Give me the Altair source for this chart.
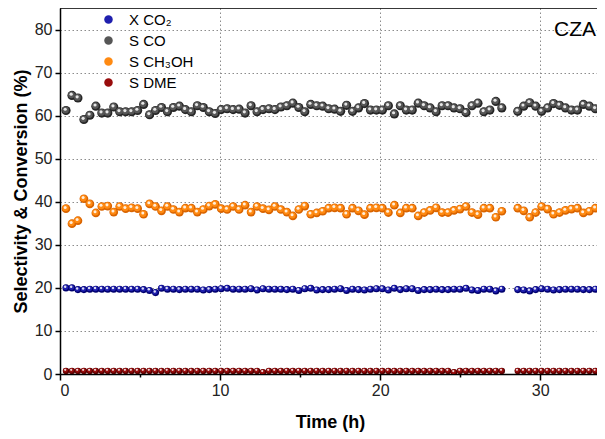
import altair as alt
import pandas as pd

# ---- data ----
series_names = ["X CO\u2082", "S CO", "S CH\u2083OH", "S DME"]
series_colors = ["#1f1fae", "#565656", "#ff8a12", "#980c0c"]
rim_colors = ["#00006e", "#262626", "#d96400", "#560000"]
sizes = [50, 84, 76, 42]

# sampling times (h): first run, then a short interruption, then second run
time_run1 = [round(0.375 + 0.373 * i, 3) for i in range(74)]
time_run2 = [round(28.6 + 0.373 * i, 3) for i in range(15)]

x_co2_run1 = [20.0, 20.0, 19.6, 19.6, 19.7, 19.7, 19.7, 19.7, 19.7, 19.7,
              19.7, 19.7, 19.7, 19.6, 19.4, 18.9, 19.9, 19.7, 19.7, 19.6,
              19.7, 19.7, 19.7, 19.5, 19.6, 19.7, 19.8, 19.9, 19.7, 19.7,
              19.7, 19.8, 19.5, 19.8, 19.7, 19.7, 19.7, 19.6, 19.7, 19.4,
              19.8, 19.9, 19.5, 19.6, 19.6, 19.7,
              19.8, 19.4, 19.7, 19.6, 19.5, 19.7, 19.8, 19.8, 19.5, 19.9,
              19.6, 19.8, 19.8, 19.4, 19.6, 19.6, 19.7, 19.6, 19.6, 19.7,
              19.7, 19.9, 19.5, 19.4, 19.7, 19.7, 19.3, 19.7]
x_co2_run2 = [19.6, 19.5, 19.3, 19.6, 19.8, 19.7, 19.5, 19.6, 19.7, 19.7,
              19.7, 19.6, 19.6, 19.7, 19.6]

s_co_run1 = [61.2, 64.7, 64.1, 59.1, 60.1, 62.2, 60.6, 60.6, 62.0, 60.9,
             60.9, 60.9, 61.2, 62.6, 60.2, 61.2, 61.9, 60.9, 61.9, 62.2,
             61.4, 60.9, 62.3, 61.9, 60.9, 60.5, 61.4, 61.6, 61.4, 61.5,
             60.6, 62.3, 60.9, 61.4, 61.6, 61.4, 62.0, 62.3, 62.9, 61.9,
             60.9, 62.6, 62.3, 62.2, 61.6, 61.5,
             61.0, 62.4, 61.0, 61.8, 62.8, 61.3, 61.3, 61.3, 62.3, 60.4,
             62.3, 61.3, 61.3, 62.9, 62.3, 61.8, 60.9, 62.3, 62.3, 61.8,
             61.6, 60.7, 62.3, 62.9, 60.9, 61.3, 63.3, 61.8]
s_co_run2 = [61.0, 62.2, 63.0, 62.2, 61.0, 61.8, 62.8, 62.4, 61.8, 61.3,
             61.3, 62.6, 62.2, 61.6, 61.5]

s_meoh_run1 = [38.4, 34.9, 35.6, 40.7, 39.5, 37.4, 38.9, 39.0, 37.6, 38.9,
               38.4, 38.6, 38.4, 37.1, 39.5, 38.9, 37.9, 38.9, 38.2, 37.6,
               38.5, 38.5, 37.6, 38.2, 39.0, 39.4, 38.4, 38.2, 38.9, 38.2,
               39.2, 37.6, 38.9, 38.4, 38.1, 38.9, 38.2, 37.6, 36.7, 38.2,
               39.0, 37.1, 37.4, 37.8, 38.5, 38.6,
               38.5, 37.1, 38.5, 37.9, 37.0, 38.5, 38.6, 38.5, 37.5, 39.2,
               37.4, 38.5, 38.5, 36.7, 37.5, 38.0, 38.6, 37.5, 37.5, 38.0,
               38.3, 38.9, 37.5, 37.0, 38.5, 38.5, 36.4, 37.8]
s_meoh_run2 = [38.5, 37.9, 36.4, 37.5, 38.9, 38.3, 37.1, 37.5, 38.0, 38.3,
               38.5, 37.4, 37.8, 38.5, 37.0]

s_dme_run1 = [0.7, 0.7, 0.7, 0.7, 0.7, 0.7, 0.7, 0.7, 0.7, 0.7,
              0.7, 0.7, 0.7, 0.7, 0.7, 0.7, 0.7, 0.7, 0.7, 0.7,
              0.7, 0.7, 0.7, 0.7, 0.7, 0.7, 0.7, 0.7, 0.7, 0.7,
              0.7, 0.7, 0.7, 0.4, 0.7, 0.7, 0.7, 0.7, 0.7, 0.7,
              0.7, 0.7, 0.7, 0.7, 0.7, 0.7, 0.7, 0.7, 0.7, 0.7,
              0.7, 0.7, 0.7, 0.7, 0.7, 0.7, 0.7, 0.7, 0.7, 0.7,
              0.7, 0.7, 0.7, 0.7, 0.7, 0.4, 0.7, 0.7, 0.7, 0.7,
              0.7, 0.7, 0.7, 0.7]
s_dme_run2 = [0.7, 0.7, 0.7, 0.7, 0.7, 0.7, 0.7, 0.7, 0.7, 0.7,
              0.7, 0.7, 0.7, 0.7, 0.7]

x_ticks = [0, 5, 10, 15, 20, 25, 30]
y_ticks = [0, 10, 20, 30, 40, 50, 60, 70, 80]

# ---- table ----
values_by_series = [
    x_co2_run1 + x_co2_run2,
    s_co_run1 + s_co_run2,
    s_meoh_run1 + s_meoh_run2,
    s_dme_run1 + s_dme_run2,
]
times = time_run1 + time_run2
rows = []
for k, name in enumerate(series_names):
    for t, v in zip(times, values_by_series[k]):
        rows.append({
            "series": name, "time": t, "value": v,
            "rim": rim_colors[k],
            "sz": sizes[k], "szm": sizes[k] * 0.55, "szh": sizes[k] * 0.12,
        })
df = pd.DataFrame(rows)

FONT = "Liberation Sans"
minor = "datum.value % 10 !== 0"

x_enc = alt.X(
    "time:Q",
    scale=alt.Scale(domain=[0, 33.55], nice=False, zero=False),
    axis=alt.Axis(
        values=x_ticks, title="Time (h)",
        labelExpr="datum.value % 10 === 0 ? datum.label : ''",
        labelOverlap=False,
        tickSize={"condition": {"test": minor, "value": 3}, "value": 6},
        gridOpacity={"condition": {"test": minor, "value": 0}, "value": 1},
        grid=True, gridDash=[1.5, 2.5], gridColor="#8c8c8c", gridWidth=1,
        domainColor="black", domainWidth=1.5, tickColor="black", tickWidth=1.5,
        labelFont=FONT, labelFontSize=16, labelColor="#222222", labelPadding=2,
        titleFont=FONT, titleFontSize=18, titleFontWeight="bold", titleColor="black",
        titlePadding=15, titleX=270,
    ),
)
y_enc = alt.Y(
    "value:Q",
    scale=alt.Scale(domain=[0, 85], nice=False, zero=False),
    axis=alt.Axis(
        values=y_ticks, title="Selectivity & Conversion (%)",
        grid=True, gridDash=[1.5, 2.5], gridColor="#8c8c8c", gridWidth=1,
        domainColor="black", domainWidth=1.5, tickColor="black", tickWidth=1.5,
        tickSize=5,
        labelFont=FONT, labelFontSize=16, labelColor="#222222", labelPadding=3,
        titleFont=FONT, titleFontSize=18, titleFontWeight="bold", titleColor="black",
        titlePadding=4,
    ),
)

base = alt.Chart(df)

rim = base.mark_circle(opacity=1, clip=True).encode(
    x=x_enc, y=y_enc,
    color=alt.Color("rim:N", scale=None),
    size=alt.Size("sz:Q", scale=None),
)
mid = base.mark_circle(opacity=1, clip=True, xOffset=-0.5, yOffset=-0.6).encode(
    x="time:Q", y="value:Q",
    color=alt.Color(
        "series:N",
        scale=alt.Scale(domain=series_names, range=series_colors),
        sort=series_names,
        legend=alt.Legend(
            title=None, orient="none", legendX=41, legendY=4,
            labelFont=FONT, labelFontSize=15, labelColor="black",
            symbolSize=72, symbolType="circle", symbolStrokeWidth=0,
            labelOffset=13, rowPadding=5, padding=0,
        ),
    ),
    size=alt.Size("szm:Q", scale=None),
)
hi = base.mark_circle(color="white", opacity=0.85, clip=True, xOffset=-0.8, yOffset=-1.2).encode(
    x="time:Q", y="value:Q",
    size=alt.Size("szh:Q", scale=None),
)

top_frame = alt.Chart(pd.DataFrame({"value": [85]})).mark_rule(
    color="black", strokeWidth=1.5
).encode(y="value:Q")

label_df = pd.DataFrame({"time": [33.55], "value": [80], "label": ["CZA"]})
cza = alt.Chart(label_df).mark_text(
    align="right", baseline="middle", font=FONT, fontSize=21, color="black", dx=-1
).encode(x="time:Q", y="value:Q", text="label:N")

chart = alt.layer(rim, mid, hi, top_frame, cza).properties(
    width=537, height=366,
    autosize=alt.AutoSizeParams(type="none"),
    padding={"left": 52, "top": 0, "right": 0, "bottom": 64},
).configure_view(stroke=None).configure(background="white")

chart.save("out.html", embed_options={"renderer": "svg", "actions": False})
